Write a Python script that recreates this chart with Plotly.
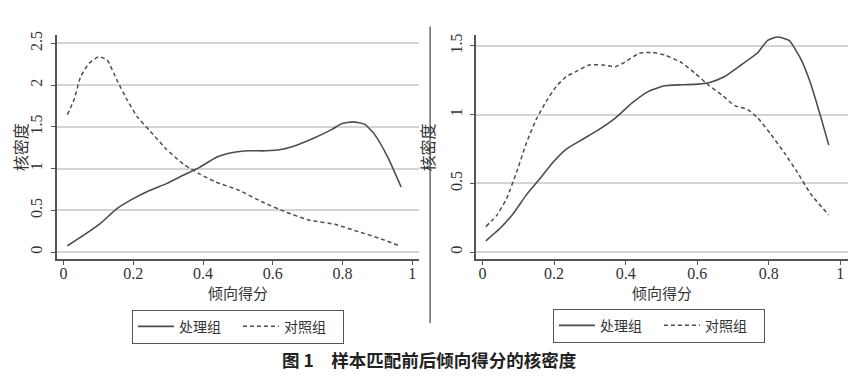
import plotly.graph_objects as go

# ---- data ----
# Before matching (left panel)
before_treat_x = [0.011, 0.059, 0.106, 0.153, 0.2, 0.248, 0.295, 0.343, 0.39, 0.437, 0.485, 0.532,
                  0.58, 0.627, 0.674, 0.72, 0.77, 0.797, 0.83, 0.864, 0.892, 0.93, 0.968]
before_treat_y = [0.076, 0.206, 0.344, 0.52, 0.64, 0.74, 0.82, 0.92, 1.015, 1.134, 1.193, 1.213,
                  1.213, 1.232, 1.29, 1.37, 1.47, 1.537, 1.56, 1.53, 1.41, 1.134, 0.78]
before_ctrl_x = [0.011, 0.03, 0.049, 0.073, 0.101, 0.125, 0.153, 0.182, 0.21, 0.248, 0.295, 0.343,
                 0.39, 0.437, 0.503, 0.57, 0.636, 0.703, 0.778, 0.845, 0.91, 0.962]
before_ctrl_y = [1.647, 1.825, 2.1, 2.26, 2.34, 2.30, 2.06, 1.825, 1.628, 1.45, 1.232, 1.055,
                 0.936, 0.838, 0.74, 0.6, 0.482, 0.384, 0.332, 0.245, 0.159, 0.076]

# After matching (right panel)
after_treat_x = [0.009, 0.049, 0.086, 0.123, 0.16, 0.197, 0.234, 0.28, 0.326, 0.372, 0.418, 0.464,
                 0.51, 0.557, 0.603, 0.635, 0.677, 0.723, 0.769, 0.797, 0.825, 0.857, 0.889,
                 0.917, 0.945, 0.968]
after_treat_y = [0.082, 0.173, 0.281, 0.418, 0.533, 0.653, 0.749, 0.821, 0.893, 0.977, 1.085, 1.169,
                 1.21, 1.217, 1.222, 1.234, 1.277, 1.361, 1.45, 1.54, 1.565, 1.54, 1.409,
                 1.229, 0.989, 0.778]
after_ctrl_x = [0.009, 0.04, 0.067, 0.095, 0.123, 0.15, 0.178, 0.206, 0.234, 0.261, 0.298, 0.335,
                0.372, 0.4, 0.437, 0.474, 0.51, 0.557, 0.594, 0.631, 0.668, 0.705, 0.741, 0.769,
                0.806, 0.843, 0.88, 0.917, 0.968]
after_ctrl_y = [0.185, 0.269, 0.389, 0.581, 0.797, 0.965, 1.097, 1.205, 1.277, 1.313, 1.361, 1.361,
                1.349, 1.385, 1.445, 1.452, 1.433, 1.377, 1.301, 1.217, 1.145, 1.066, 1.037, 0.977,
                0.857, 0.725, 0.581, 0.425, 0.269]

x_ticks = [0, 0.2, 0.4, 0.6, 0.8, 1]
x_tick_labels = ["0", "0.2", "0.4", "0.6", "0.8", "1"]
left_y_ticks = [0, 0.5, 1, 1.5, 2, 2.5]
left_y_tick_labels = ["0", "0.5", "1", "1.5", "2", "2.5"]
right_y_ticks = [0, 0.5, 1, 1.5]
right_y_tick_labels = ["0", "0.5", "1", "1.5"]

name_treat = "处理组"
name_ctrl = "对照组"
x_title = "倾向得分"
y_title = "核密度"
fig_title = "图 1　样本匹配前后倾向得分的核密度"

# ---- styling ----
LINE = "#4d4d4d"
AX = "#555555"
GRID = "#d4d4d4"
SERIF = "Liberation Serif, Noto Sans CJK SC"
CJK = "Noto Sans CJK SC"

# page body has an 8px margin: figure is drawn 8px in from the window corner
OFF = 8
W, H = 864 - OFF, 376 - OFF


def px(v):
    return (v - OFF) / W


def py(v):
    return (H - (v - OFF)) / H


fig = go.Figure()

fig.add_trace(go.Scatter(x=before_treat_x, y=before_treat_y, mode="lines", name=name_treat,
                         line=dict(color=LINE, width=1.6, shape="spline", smoothing=0.5),
                         xaxis="x", yaxis="y", legend="legend"))
fig.add_trace(go.Scatter(x=before_ctrl_x, y=before_ctrl_y, mode="lines", name=name_ctrl,
                         line=dict(color=LINE, width=1.5, dash="4px,3px", shape="spline", smoothing=0.5),
                         xaxis="x", yaxis="y", legend="legend"))
fig.add_trace(go.Scatter(x=after_treat_x, y=after_treat_y, mode="lines", name=name_treat,
                         line=dict(color=LINE, width=1.6, shape="spline", smoothing=0.5),
                         xaxis="x2", yaxis="y2", legend="legend2"))
fig.add_trace(go.Scatter(x=after_ctrl_x, y=after_ctrl_y, mode="lines", name=name_ctrl,
                         line=dict(color=LINE, width=1.5, dash="4px,3px", shape="spline", smoothing=0.5),
                         xaxis="x2", yaxis="y2", legend="legend2"))

ydom = [py(258), py(31.7)]

common_x = dict(tickmode="array", tickvals=x_ticks, ticktext=x_tick_labels,
                showline=True, linecolor=AX, linewidth=1.5, ticks="outside", ticklen=4,
                tickcolor=AX, tickwidth=1.2, showgrid=False, zeroline=False,
                ticklabelstandoff=-5,
                tickfont=dict(family=SERIF, size=16, color="#333"),
                title=dict(text=x_title, font=dict(family=CJK, size=15, color="#333"), standoff=4))
common_y = dict(showline=True, linecolor=AX, linewidth=1.5, ticks="outside", ticklen=4,
                tickcolor=AX, tickwidth=1.2, showgrid=True, gridcolor=GRID, gridwidth=1.5,
                zeroline=False, tickangle=-90, ticklabelstandoff=2,
                tickfont=dict(family=SERIF, size=16, color="#333"),
                title=dict(text=y_title, font=dict(family=CJK, size=16, color="#333"), standoff=9))

legend_common = dict(orientation="h", xanchor="left", yanchor="top",
                     bordercolor=AX, borderwidth=1, font=dict(family=CJK, size=14, color="#333"),
                     itemwidth=36, tracegroupgap=0, bgcolor="white",
                     entrywidth=54, entrywidthmode="pixels")

fig.update_layout(
    width=W, height=H,
    margin=dict(l=0, r=0, t=0, b=0),
    paper_bgcolor="white", plot_bgcolor="white",
    xaxis=dict(domain=[px(49), px(415)], range=[-0.0199, 1.0199], anchor="y", **common_x),
    yaxis=dict(domain=ydom, range=[-0.0865, 2.595], anchor="x", tickmode="array",
               tickvals=left_y_ticks, ticktext=left_y_tick_labels, **common_y),
    xaxis2=dict(domain=[px(472), px(848)], range=[-0.0194, 1.0222], anchor="y2", **common_x),
    yaxis2=dict(domain=ydom, range=[-0.0525, 1.576], anchor="x2", tickmode="array",
                tickvals=right_y_ticks, ticktext=right_y_tick_labels, **common_y),
    legend=dict(x=px(125), y=py(309), **legend_common),
    legend2=dict(x=px(550), y=py(308), **legend_common),
    shapes=[dict(type="line", xref="paper", yref="paper", x0=px(426), x1=px(426),
                 y0=py(322.7), y1=py(22.7), line=dict(color="#444", width=1.2))],
    annotations=[dict(text=fig_title, xref="paper", yref="paper", x=px(425), y=py(359),
                      xanchor="center", yanchor="middle", showarrow=False,
                      font=dict(family=CJK, size=17.5, color="#222", weight="bold"))],
)

fig.write_html("out.html")
